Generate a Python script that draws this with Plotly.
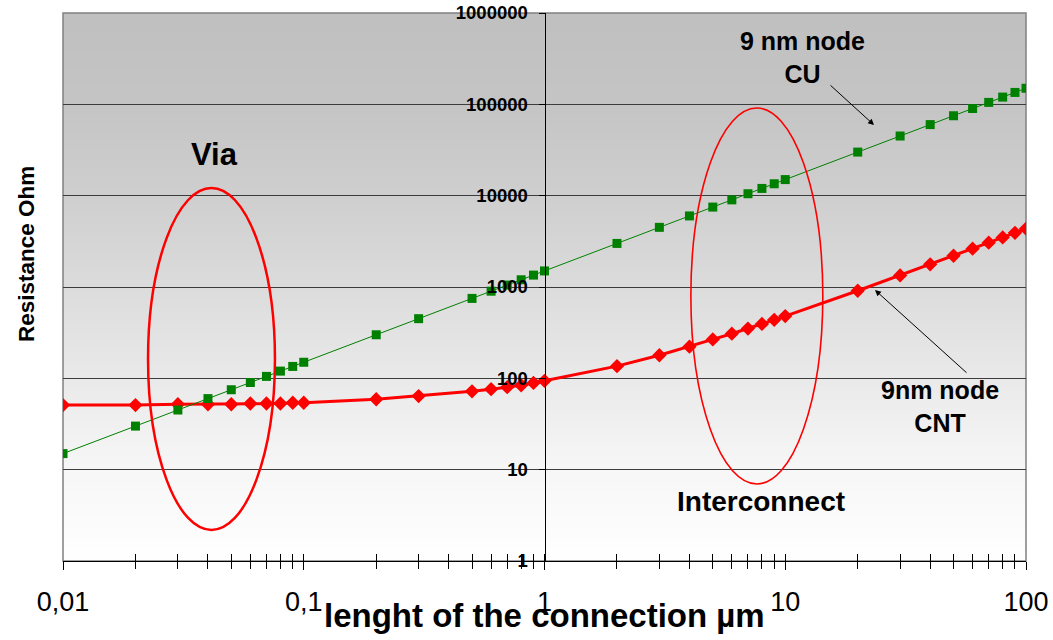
import base64
import struct
import zlib

import numpy as np
import plotly.graph_objects as go

# ---------------- data ----------------
length_um = [0.01, 0.02, 0.03, 0.04, 0.05, 0.06, 0.07, 0.08, 0.09, 0.1,
             0.2, 0.3, 0.5, 0.6, 0.7, 0.8, 0.9, 1,
             2, 3, 4, 5, 6, 7, 8, 9, 10,
             20, 30, 40, 50, 60, 70, 80, 90, 100]
cu_ohm = [15, 30, 45, 60, 75, 90, 105, 120, 135, 150,
          300, 450, 750, 900, 1050, 1200, 1350, 1500,
          3000, 4500, 6000, 7500, 9000, 10500, 12000, 13500, 15000,
          30000, 45000, 60000, 75000, 90000, 105000, 120000, 135000, 150000]
cnt_ohm = [51, 51, 52, 52, 52, 53, 53, 53, 54, 54,
           59, 64, 72, 76, 80, 84, 89, 94,
           136, 179, 222, 267, 308, 351, 394, 437, 480,
           910, 1340, 1770, 2200, 2630, 3060, 3490, 3920, 4350]

x_tickvals = [0.01, 0.1, 1, 10, 100]
x_ticktext = ["0,01", "0,1", "1", "10", "100"]
x_minor = [m * d for d in [0.01, 0.1, 1, 10] for m in range(2, 10)]
y_tickvals = [1, 10, 100, 1000, 10000, 100000, 1000000]
y_ticktext = ["1", "10", "100", "1000", "10000", "100000", "1000000"]

FONT = "Arial, Liberation Sans, sans-serif"

# ---------------- background gradient (PNG built in memory) ----------------
def gray_png(vals, w=2):
    raw = b"".join(b"\x00" + bytes([int(v)] * w) for v in vals)

    def chunk(t, d):
        c = struct.pack(">I", len(d)) + t + d
        return c + struct.pack(">I", zlib.crc32(t + d) & 0xFFFFFFFF)

    ihdr = struct.pack(">IIBBBBB", w, len(vals), 8, 0, 0, 0, 0)
    return (b"\x89PNG\r\n\x1a\n" + chunk(b"IHDR", ihdr)
            + chunk(b"IDAT", zlib.compress(raw)) + chunk(b"IEND", b""))

rows = np.arange(0, 548)
grad = np.interp(rows, [0, 91, 182, 274, 365, 457, 547],
                 [192, 197, 207, 220, 234, 247, 255])
bg_uri = "data:image/png;base64," + base64.b64encode(gray_png(grad)).decode()

# ---------------- figure ----------------
fig = go.Figure()

fig.add_trace(go.Scatter(
    x=length_um, y=cnt_ohm, mode="lines+markers", name="9nm node CNT",
    line=dict(color="#FF0000", width=3),
    marker=dict(symbol="diamond", size=11, color="#FF0000"),
    showlegend=False, hoverinfo="skip"))

fig.add_trace(go.Scatter(
    x=length_um, y=cu_ohm, mode="lines+markers", name="9 nm node CU",
    line=dict(color="#008000", width=1),
    marker=dict(symbol="square", size=9, color="#008000"),
    showlegend=False, hoverinfo="skip"))

# invisible trace to activate the overlay axis used for inward ticks
fig.add_trace(go.Scatter(x=[1], y=[1], xaxis="x2", mode="markers",
                         marker=dict(opacity=0), showlegend=False,
                         hoverinfo="skip"))

fig.update_layout(
    width=1053, height=640,
    margin=dict(l=63, r=27, t=13, b=79, autoexpand=False),
    paper_bgcolor="white",
    plot_bgcolor="rgba(0,0,0,0)",
    font=dict(family=FONT, color="black"),
    xaxis=dict(
        type="log", range=[-2, 2], domain=[0, 1],
        showgrid=False, zeroline=False,
        showline=True, linecolor="black", linewidth=1,
        ticks="outside", ticklen=8, tickwidth=1, tickcolor="black",
        tickmode="array", tickvals=x_tickvals, ticktext=x_ticktext,
        tickfont=dict(size=27, family=FONT),
        ticklabelstandoff=9, ticklabeloverflow="allow",
        minor=dict(ticks="outside", ticklen=7, tickcolor="black",
                   tickmode="array", tickvals=x_minor, showgrid=False),
        automargin=False,
    ),
    xaxis2=dict(
        type="log", range=[-2, 2], overlaying="x", anchor="y", side="bottom",
        showgrid=False, zeroline=False, showline=False,
        ticks="inside", ticklen=7, tickcolor="black",
        tickmode="array", tickvals=x_tickvals, showticklabels=False,
        minor=dict(ticks="inside", ticklen=7, tickcolor="black",
                   tickmode="array", tickvals=x_minor, showgrid=False),
        automargin=False,
    ),
    yaxis=dict(
        type="log", range=[0, 6], domain=[0, 1],
        anchor="free", position=0.5,
        showgrid=True, gridcolor="#3c3c3c", gridwidth=1,
        zeroline=False,
        showline=True, linecolor="black", linewidth=1,
        ticks="outside", ticklen=6, tickcolor="black",
        tickmode="array", tickvals=y_tickvals, ticktext=y_ticktext,
        tickfont=dict(size=18.5, family=FONT, weight="bold"),
        ticklabelstandoff=7, ticklabeloverflow="allow",
        automargin=False,
    ),
    images=[dict(source=bg_uri, xref="paper", yref="paper", x=0, y=1,
                 sizex=1, sizey=1, xanchor="left", yanchor="top",
                 sizing="stretch", layer="below")],
)

# frame of the plot area
fig.add_shape(type="rect", xref="paper", yref="paper", x0=0, x1=1, y0=0, y1=1,
              line=dict(color="#808080", width=1.5), layer="below")

# ellipses
fig.add_shape(type="circle", xref="paper", yref="paper",
              x0=0.0883, x1=0.2201, y0=0.0566, y1=0.6807,
              line=dict(color="#FF0000", width=2.5), layer="above")
fig.add_shape(type="circle", xref="paper", yref="paper",
              x0=0.652, x1=0.789, y0=0.1405, y1=0.8266,
              line=dict(color="#FF0000", width=1.6), layer="above")

# text annotations
def label(text, x, y, size, angle=0):
    fig.add_annotation(text=text, xref="paper", yref="paper", x=x, y=y,
                       xanchor="center", yanchor="middle", showarrow=False,
                       textangle=angle,
                       font=dict(family=FONT, size=size, color="black",
                                 weight="bold"))

label("Via", 0.1578, 0.7427, 31)
label("9 nm node<br>CU", 0.7674, 0.9197, 25)
label("9nm node<br>CNT", 0.9107, 0.2828, 25)
label("Interconnect", 0.7248, 0.1077, 28)
label("Resistance Ohm", -0.0384, 0.5602, 22.5, angle=-90)
label("lenght of the connection µm", 0.5, -0.1, 33)

# arrows
fig.add_annotation(text="", xref="paper", yref="paper", x=0.8422, y=0.7956,
                   ax=-45, ay=-41, showarrow=True, arrowhead=2, arrowsize=1.2,
                   arrowwidth=1, arrowcolor="black")
fig.add_annotation(text="", xref="paper", yref="paper", x=0.8432, y=0.4945,
                   ax=93, ay=84, showarrow=True, arrowhead=2, arrowsize=1.2,
                   arrowwidth=1, arrowcolor="black")

# remove the default 8px page margin so the figure fills the window exactly
fig.write_html("out.html", config={"displayModeBar": False},
               post_script="document.body.style.margin='0px';")
